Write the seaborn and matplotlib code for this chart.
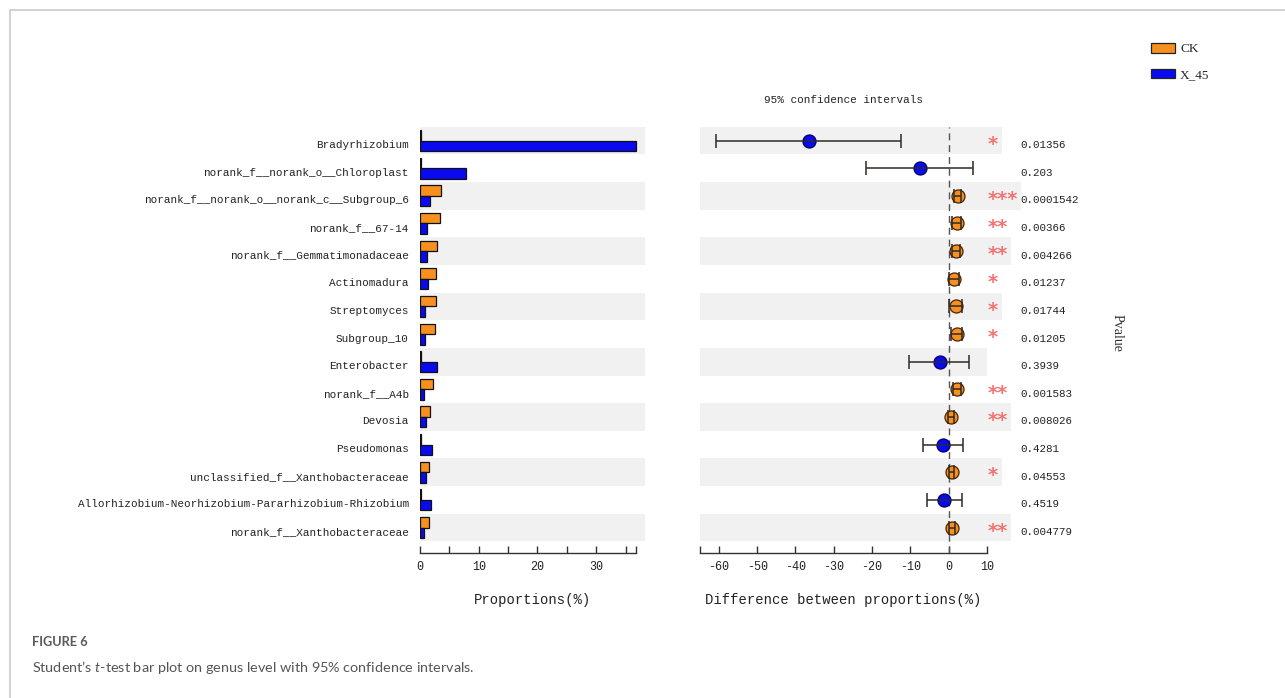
import numpy as np
import pandas as pd
import matplotlib
matplotlib.use("Agg")
import matplotlib.pyplot as plt
import matplotlib.transforms as mtransforms
from matplotlib.patches import Patch, Rectangle
from matplotlib.lines import Line2D
import seaborn as sns

# ---- data -------------------------------------------------------------
genera = [
    "Bradyrhizobium",
    "norank_f__norank_o__Chloroplast",
    "norank_f__norank_o__norank_c__Subgroup_6",
    "norank_f__67-14",
    "norank_f__Gemmatimonadaceae",
    "Actinomadura",
    "Streptomyces",
    "Subgroup_10",
    "Enterobacter",
    "norank_f__A4b",
    "Devosia",
    "Pseudomonas",
    "unclassified_f__Xanthobacteraceae",
    "Allorhizobium-Neorhizobium-Pararhizobium-Rhizobium",
    "norank_f__Xanthobacteraceae",
]
groups = ["CK", "X_45"]
ck_prop = [0.15, 0.15, 3.63, 3.40, 2.95, 2.78, 2.78, 2.61, 0.15, 2.27, 1.64, 0.15, 1.47, 0.15, 1.53]
x45_prop = [36.7, 7.83, 1.64, 1.13, 1.25, 1.42, 0.85, 0.79, 2.95, 0.62, 0.96, 2.10, 0.96, 1.87, 0.62]
diff_mean = [-36.5, -7.5, 2.3, 2.1, 1.9, 1.4, 1.8, 2.1, -2.3, 2.1, 0.6, -1.4, 0.8, -1.2, 0.95]
ci_low = [-60.8, -21.6, 1.5, 0.9, 0.8, 0.1, 0.2, 0.6, -10.4, 1.1, -0.2, -6.6, 0.1, -5.6, 0.15]
ci_high = [-12.5, 6.4, 3.1, 3.3, 3.0, 2.7, 3.4, 3.6, 5.2, 3.1, 1.4, 3.8, 1.5, 3.4, 1.75]
p_values = ["0.01356", "0.203", "0.0001542", "0.00366", "0.004266", "0.01237",
            "0.01744", "0.01205", "0.3939", "0.001583", "0.008026", "0.4281",
            "0.04553", "0.4519", "0.004779"]

# ---- style ------------------------------------------------------------
ORANGE = "#f7901e"
BLUE = "#0a0af0"
STRIPE = "#f1f1f1"
INK = "#222222"
MONO = ["Liberation Mono", "DejaVu Sans Mono"]
SERIF = ["Liberation Serif", "DejaVu Serif"]

sns.set_theme(style="white")
plt.rcParams["font.family"] = MONO + ["DejaVu Sans"]
plt.rcParams["axes.unicode_minus"] = False
plt.rcParams["mathtext.fontset"] = "custom"
plt.rcParams["mathtext.it"] = "Lato:italic"
plt.rcParams["mathtext.rm"] = "Lato"

W, H = 1285, 698
fig = plt.figure(figsize=(W / 100, H / 100), dpi=100)
fig.patch.set_facecolor("white")


def fig_box(x0, y_top, x1, y_bot):
    return [x0 / W, 1 - y_bot / H, (x1 - x0) / W, (y_bot - y_top) / H]


AX_TOP, AX_BOT = 126.7, 553.0
axL = fig.add_axes(fig_box(420, AX_TOP, 645, AX_BOT))
axR = fig.add_axes(fig_box(699.7, AX_TOP, 987.0, AX_BOT))

n = len(genera)
rows = np.arange(n)
y_bottom = 14.92

# ---- left panel: mean proportions ---------------------------------------
prop_df = pd.DataFrame({
    "genus": genera * 2,
    "group": [groups[0]] * n + [groups[1]] * n,
    "prop": ck_prop + x45_prop,
})
for i in rows[::2]:
    axL.axhspan(i - 0.5, i + 0.5, xmin=0, xmax=1, color=STRIPE, lw=0, zorder=0)
sns.barplot(
    data=prop_df, y="genus", x="prop", hue="group", order=genera,
    hue_order=groups, palette={"CK": ORANGE, "X_45": BLUE}, orient="h",
    width=0.76, saturation=1, edgecolor="#111111", linewidth=0.9,
    errorbar=None, legend=False, ax=axL, zorder=2,
)
prop_max = max(ck_prop + x45_prop)
axL.set_xlim(0, 38.3)
axL.set_ylim(y_bottom, -0.5)
axL.spines["bottom"].set_bounds(0, prop_max)
left_ticks = list(range(0, 36, 5)) + [prop_max]
axL.set_xticks(left_ticks)
axL.set_xticklabels([str(t) if t in (0, 10, 20, 30) else "" for t in left_ticks])
axL.set_ylabel("")
axL.set_xlabel("Proportions(%)", fontsize=10, color=INK, labelpad=14)
axL.tick_params(axis="y", left=False, length=0, pad=8, labelsize=7.9, labelcolor=INK)
label_shift = mtransforms.ScaledTranslation(0, -2.5 / 72, fig.dpi_scale_trans)
for lab in axL.get_yticklabels():
    lab.set_transform(lab.get_transform() + label_shift)

# ---- right panel: difference with 95% CI --------------------------------
for i in rows[::2]:
    axR.axhspan(i - 0.5, i + 0.5, color=STRIPE, lw=0, zorder=0)
axR.axvline(0, color="#555555", lw=1.0, ls=(0, (5, 3.5)), zorder=1)

ci_df = pd.DataFrame({
    "row": rows,
    "diff": diff_mean,
    "low": ci_low,
    "high": ci_high,
    "group": ["X_45" if d < 0 else "CK" for d in diff_mean],
})
for grp, face, edge in (("X_45", BLUE, "#000066"), ("CK", ORANGE, "#4a2200")):
    sub = ci_df[ci_df["group"] == grp]
    sns.scatterplot(data=sub, x="diff", y="row", color=face, edgecolor=edge,
                    linewidth=0.9, s=88, ax=axR, zorder=3, legend=False)
axR.errorbar(
    ci_df["diff"], ci_df["row"],
    xerr=[ci_df["diff"] - ci_df["low"], ci_df["high"] - ci_df["diff"]],
    fmt="none", ecolor="#2e2a26", elinewidth=1.1, capsize=4.7, capthick=1.1,
    zorder=4,
)
axR.set_xlim(-65, 10)
axR.set_ylim(y_bottom, -0.5)
right_ticks = [-65] + list(range(-60, 11, 10))
axR.set_xticks(right_ticks)
axR.set_xticklabels([""] + [str(t) for t in range(-60, 11, 10)])
axR.set_yticks([])
axR.set_xlabel("Difference between proportions(%)", fontsize=10, color=INK, labelpad=14)
axR.set_ylabel("")
axR.set_title("95% confidence intervals", fontsize=7.9, color=INK, pad=17)

for ax in (axL, axR):
    ax.set_facecolor("white")
    for side in ("left", "right", "top"):
        ax.spines[side].set_visible(False)
    ax.spines["bottom"].set_color("#333333")
    ax.spines["bottom"].set_linewidth(1.0)
    ax.tick_params(axis="x", bottom=True, direction="in", length=5, width=1.0,
                   color="#333333", labelsize=8.5, labelcolor=INK, pad=6)

# significance stars and p-values beside the CI panel
blend = mtransforms.blended_transform_factory(axR.transAxes, axR.transData)
star_shift = mtransforms.ScaledTranslation(0.8 / 72, -6.6 / 72, fig.dpi_scale_trans)
ax_w_px = 287.3


def stars_for(p):
    p = float(p)
    if p < 0.001:
        return "***"
    if p < 0.01:
        return "**"
    if p < 0.05:
        return "*"
    return ""


for i, p in enumerate(p_values):
    stars = stars_for(p)
    if stars:
        axR.text(1.0, i, stars, transform=blend + star_shift, ha="left",
                 va="baseline", fontsize=14, weight="bold", color="#f27474",
                 family="DejaVu Sans", clip_on=False, zorder=3)
        if i % 2 == 0:
            ext = (len(stars) * 9.7 + 5) / ax_w_px
            axR.add_patch(Rectangle((1.0, i - 0.5), ext, 1.0, transform=blend,
                                    facecolor=STRIPE, lw=0, clip_on=False, zorder=0))
    axR.text(1.115, i, p, transform=blend + label_shift, ha="left",
             va="center_baseline", fontsize=7.8, color=INK, clip_on=False)

fig.text(1117 / W, 1 - 333 / H, "Pvalue", rotation=-90, family=SERIF,
         fontsize=10, color="#333333", ha="center", va="center")

# legend
fig.legend(
    handles=[Patch(facecolor=ORANGE, edgecolor="#222222", lw=0.9, label="CK"),
             Patch(facecolor=BLUE, edgecolor="#222222", lw=0.9, label="X_45")],
    loc="upper left", bbox_to_anchor=(1151 / W, 1 - 43 / H), frameon=False,
    prop={"family": SERIF, "size": 9.5}, handlelength=1.8, handleheight=0.75,
    handletextpad=0.4, labelspacing=1.0, borderpad=0, borderaxespad=0,
)

# frame lines and caption
frame_col = "#c6c6c6"
fig.add_artist(Line2D([9.5 / W, 1.0], [1 - 10 / H, 1 - 10 / H], color=frame_col,
                      lw=1.1, transform=fig.transFigure))
fig.add_artist(Line2D([9.5 / W, 9.5 / W], [1 - 10 / H, 0], color=frame_col,
                      lw=1.1, transform=fig.transFigure))
fig.text(31.5 / W, 1 - 642 / H, "FIGURE 6", family="Lato", fontsize=9.2,
         weight="bold", color="#5a5a5a", ha="left", va="center")
fig.text(31.5 / W, 1 - 668 / H,
         "Student\u2019s $t$-test bar plot on genus level with 95% confidence intervals.",
         family="Lato", fontsize=10.4, color="#555555", ha="left", va="center")

fig.savefig("out.png", dpi=100, facecolor="white")
